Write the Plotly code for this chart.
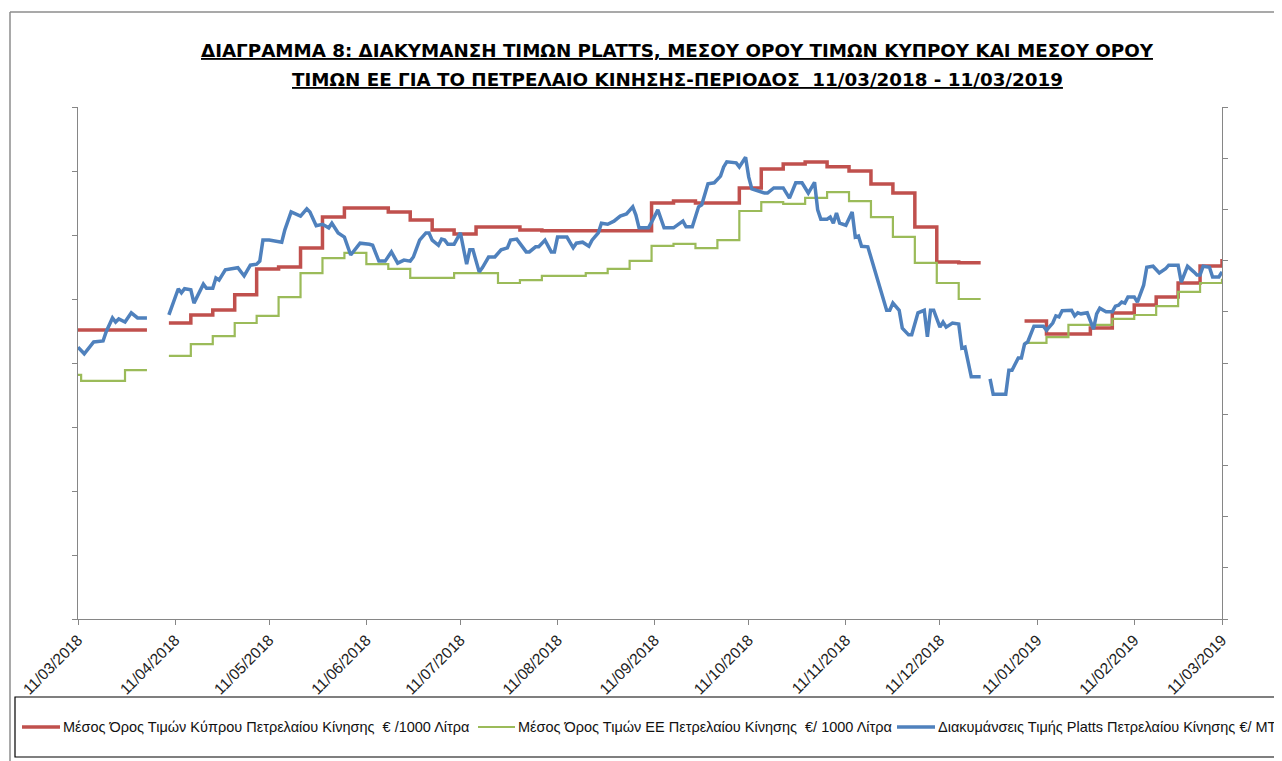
import plotly.graph_objects as go

# ---------------- data ----------------
title_line1 = "ΔΙΑΓΡΑΜΜΑ 8: ΔΙΑΚΥΜΑΝΣΗ ΤΙΜΩΝ PLATTS, ΜΕΣΟΥ ΟΡΟΥ ΤΙΜΩΝ ΚΥΠΡΟΥ ΚΑΙ ΜΕΣΟΥ ΟΡΟΥ"
title_line2 = "ΤΙΜΩΝ ΕΕ ΓΙΑ ΤΟ ΠΕΤΡΕΛΑΙΟ ΚΙΝΗΣΗΣ-ΠΕΡΙΟΔΟΣ  11/03/2018 - 11/03/2019"

name_cy = "Μέσος Όρος Τιμών Κύπρου Πετρελαίου Κίνησης  € /1000 Λίτρα"
name_eu = "Μέσος Όρος Τιμών ΕΕ Πετρελαίου Κίνησης  €/ 1000 Λίτρα"
name_platts = "Διακυμάνσεις Τιμής Platts Πετρελαίου Κίνησης €/ MT"

tick_dates = ["2018-03-11", "2018-04-11", "2018-05-11", "2018-06-11", "2018-07-11",
              "2018-08-11", "2018-09-11", "2018-10-11", "2018-11-11", "2018-12-11",
              "2019-01-11", "2019-02-11", "2019-03-11"]
tick_labels = ["11/03/2018", "11/04/2018", "11/05/2018", "11/06/2018", "11/07/2018",
               "11/08/2018", "11/09/2018", "11/10/2018", "11/11/2018", "11/12/2018",
               "11/01/2019", "11/02/2019", "11/03/2019"]

cy_dates = ["2018-03-11", "2018-04-02", "2018-04-03", "2018-04-09", "2018-04-16", "2018-04-23",
            "2018-04-30", "2018-05-07", "2018-05-14", "2018-05-21", "2018-05-28", "2018-06-04",
            "2018-06-18", "2018-06-25", "2018-07-02", "2018-07-09", "2018-07-16", "2018-07-30",
            "2018-08-06", "2018-09-10", "2018-09-17", "2018-09-24", "2018-10-08", "2018-10-15",
            "2018-10-22", "2018-10-29", "2018-11-05", "2018-11-12", "2018-11-19", "2018-11-26",
            "2018-12-03", "2018-12-10", "2018-12-17", "2018-12-24", "2018-12-25", "2019-01-07",
            "2019-01-14", "2019-01-28", "2019-02-04", "2019-02-11", "2019-02-18", "2019-02-25",
            "2019-03-04", "2019-03-10", "2019-03-11"]
cy_values = [903, 903, None, 925, 950, 966,
             1013, 1094, 1100, 1159, 1256, 1284,
             1272, 1247, 1216, 1203, 1225, 1216,
             1213, 1300, 1306, 1300, 1347, 1406,
             1422, 1428, 1413, 1400, 1359, 1331,
             1225, 1116, 1113, 1113, None, 931,
             891, 909, 956, 981, 1006, 1050,
             1103, 1103, 1125]

eu_dates = ["2018-03-11", "2018-03-12", "2018-03-26", "2018-04-02", "2018-04-03", "2018-04-09",
            "2018-04-16", "2018-04-23", "2018-04-30", "2018-05-07", "2018-05-14", "2018-05-21",
            "2018-05-28", "2018-06-04", "2018-06-11", "2018-06-18", "2018-06-25", "2018-07-09",
            "2018-07-23", "2018-07-30", "2018-08-06", "2018-08-20", "2018-08-27", "2018-09-03",
            "2018-09-10", "2018-09-17", "2018-09-24", "2018-10-01", "2018-10-08", "2018-10-15",
            "2018-10-22", "2018-10-29", "2018-11-05", "2018-11-12", "2018-11-19", "2018-11-26",
            "2018-12-03", "2018-12-10", "2018-12-17", "2018-12-24", "2018-12-25", "2019-01-07",
            "2019-01-14", "2019-01-21", "2019-02-04", "2019-02-11", "2019-02-18", "2019-02-25",
            "2019-03-04", "2019-03-10", "2019-03-11"]
eu_values = [763, 744, 778, 778, None, 822,
             859, 884, 925, 947, 1006, 1081,
             1128, 1144, 1109, 1094, 1066, 1081,
             1050, 1059, 1072, 1081, 1094, 1119,
             1166, 1172, 1159, 1184, 1275, 1303,
             1297, 1316, 1334, 1306, 1256, 1194,
             1113, 1050, 1000, 1000, None, 863,
             881, 919, 938, 950, 978, 1022,
             1050, 1050, 1063]

platts_dates = [
    "2018-03-11", "2018-03-13", "2018-03-16", "2018-03-19", "2018-03-20", "2018-03-22", "2018-03-23",
    "2018-03-24", "2018-03-26", "2018-03-28", "2018-03-30", "2018-04-02", "2018-04-05", "2018-04-09",
    "2018-04-12", "2018-04-13", "2018-04-14", "2018-04-16", "2018-04-17", "2018-04-20", "2018-04-21",
    "2018-04-23", "2018-04-24", "2018-04-25", "2018-04-27", "2018-04-29", "2018-05-01", "2018-05-03",
    "2018-05-05", "2018-05-07", "2018-05-08", "2018-05-09", "2018-05-11", "2018-05-15", "2018-05-16",
    "2018-05-18", "2018-05-21", "2018-05-23", "2018-05-24", "2018-05-26", "2018-05-28", "2018-05-30",
    "2018-05-31", "2018-06-02", "2018-06-04", "2018-06-06", "2018-06-09", "2018-06-12", "2018-06-13",
    "2018-06-15", "2018-06-17", "2018-06-19", "2018-06-21", "2018-06-23", "2018-06-25", "2018-06-26",
    "2018-06-28", "2018-06-30", "2018-07-01", "2018-07-02", "2018-07-04", "2018-07-05", "2018-07-06",
    "2018-07-07", "2018-07-09", "2018-07-11", "2018-07-13", "2018-07-14", "2018-07-15", "2018-07-17",
    "2018-07-18", "2018-07-20", "2018-07-22", "2018-07-24", "2018-07-26", "2018-07-27", "2018-07-29",
    "2018-08-01", "2018-08-02", "2018-08-04", "2018-08-05", "2018-08-07", "2018-08-09", "2018-08-10",
    "2018-08-11", "2018-08-14", "2018-08-16", "2018-08-17", "2018-08-19", "2018-08-21", "2018-08-22",
    "2018-08-24", "2018-08-25", "2018-08-27", "2018-08-29", "2018-08-31", "2018-09-02", "2018-09-04",
    "2018-09-05", "2018-09-06", "2018-09-09", "2018-09-10", "2018-09-12", "2018-09-14", "2018-09-17",
    "2018-09-20", "2018-09-21", "2018-09-23", "2018-09-25", "2018-09-26", "2018-09-28", "2018-09-30",
    "2018-10-02", "2018-10-03", "2018-10-04", "2018-10-07", "2018-10-08", "2018-10-10", "2018-10-11",
    "2018-10-12", "2018-10-14", "2018-10-16", "2018-10-17", "2018-10-19", "2018-10-22", "2018-10-24",
    "2018-10-26", "2018-10-28", "2018-10-30", "2018-11-01", "2018-11-02", "2018-11-03", "2018-11-05",
    "2018-11-06", "2018-11-07", "2018-11-08", "2018-11-09", "2018-11-11", "2018-11-13", "2018-11-14",
    "2018-11-15", "2018-11-16", "2018-11-18", "2018-11-20", "2018-11-22", "2018-11-24", "2018-11-25",
    "2018-11-26", "2018-11-28", "2018-11-29", "2018-12-01", "2018-12-02", "2018-12-04", "2018-12-06",
    "2018-12-07", "2018-12-08", "2018-12-09", "2018-12-11", "2018-12-12", "2018-12-13", "2018-12-15",
    "2018-12-17", "2018-12-18", "2018-12-19", "2018-12-21", "2018-12-24", "2018-12-25", "2018-12-27",
    "2018-12-28", "2019-01-01", "2019-01-02", "2019-01-03", "2019-01-05", "2019-01-06", "2019-01-07",
    "2019-01-08", "2019-01-10", "2019-01-13", "2019-01-14", "2019-01-16", "2019-01-17", "2019-01-18",
    "2019-01-19", "2019-01-22", "2019-01-23", "2019-01-24", "2019-01-25", "2019-01-27", "2019-01-29",
    "2019-01-30", "2019-01-31", "2019-02-02", "2019-02-04", "2019-02-05", "2019-02-06", "2019-02-07",
    "2019-02-08", "2019-02-09", "2019-02-11", "2019-02-12", "2019-02-13", "2019-02-14", "2019-02-15",
    "2019-02-17", "2019-02-19", "2019-02-21", "2019-02-22", "2019-02-25", "2019-02-26", "2019-02-28",
    "2019-03-02", "2019-03-03", "2019-03-04", "2019-03-05", "2019-03-07", "2019-03-08", "2019-03-10",
    "2019-03-11"]
platts_values = [
    531, 518, 541, 543, 561, 588, 580,
    586, 580, 598, 588, 588, None, 594,
    645, 637, 645, 643, 617, 654, 646,
    646, 666, 662, 682, 684, 686, 670,
    691, 693, 699, 740, 740, 736, 760,
    795, 787, 801, 795, 768, 771, 764,
    773, 754, 746, 711, 734, 732, 730,
    699, 699, 717, 695, 701, 699, 707,
    740, 754, 754, 740, 730, 742, 740,
    732, 732, 754, 693, 721, 721, 678,
    686, 707, 707, 721, 725, 740, 742,
    717, 717, 727, 727, 740, 717, 717,
    746, 746, 725, 734, 736, 728, 740,
    754, 773, 771, 777, 787, 791, 805,
    789, 764, 764, 775, 799, 764, 764,
    777, 766, 766, 805, 809, 850, 852,
    865, 883, 893, 891, 883, 902, 863,
    840, 836, 832, 832, 842, 842, 822,
    852, 852, 832, 853, 799, 781, 781,
    785, 773, 793, 773, 769, 795, 746,
    748, 728, 727, 686, 646, 603, 603,
    617, 603, 568, 555, 555, 598, 603,
    551, 603, 603, 570, 580, 570, 578,
    576, 529, 531, 473, 473, None, 469,
    439, 439, 486, 486, 510, 510, 537,
    541, 572, 572, 564, 578, 592, 590,
    602, 603, 592, 598, 596, 598, 566,
    596, 607, 600, 600, 611, 613, 619,
    617, 629, 629, 619, 637, 652, 687,
    689, 676, 684, 691, 691, 658, 689,
    678, 672, 672, 689, 687, 668, 668,
    678]

# ---------------- styling ----------------
RED = "#C0504D"
GREEN = "#9BBB59"
BLUE = "#4F81BD"
AXIS = "#868686"
FONT = "Liberation Sans"

OFF = 8                      # page offset of the figure inside the browser page
W, H = 1282 - OFF, 761 - OFF
# plot area in page pixels
PL, PR, PT, PB = 78, 1222, 107, 619


def px(x):
    return (x - PL) / (PR - PL)


def py(y):
    return (PB - y) / (PB - PT)


fig = go.Figure()
fig.add_trace(go.Scatter(x=cy_dates, y=cy_values, name=name_cy, mode="lines",
                         line=dict(color=RED, width=3.5, shape="hv"), yaxis="y"))
fig.add_trace(go.Scatter(x=eu_dates, y=eu_values, name=name_eu, mode="lines",
                         line=dict(color=GREEN, width=2.2, shape="hv"), yaxis="y"))
fig.add_trace(go.Scatter(x=platts_dates, y=platts_values, name=name_platts, mode="lines",
                         line=dict(color=BLUE, width=3.5), yaxis="y2"))

shapes = [
    # outer chart frame (left and top edges)
    dict(type="line", xref="paper", yref="paper", x0=px(10), x1=px(10), y0=py(12), y1=py(770),
         line=dict(color="#8C8C8C", width=1.5)),
    dict(type="line", xref="paper", yref="paper", x0=px(10), x1=px(1300), y0=py(12), y1=py(12),
         line=dict(color="#8C8C8C", width=1.5)),
    # legend box
    dict(type="rect", xref="paper", yref="paper", x0=px(15), x1=px(1320), y0=py(697), y1=py(757),
         line=dict(color="black", width=1.2), fillcolor="rgba(0,0,0,0)"),
]
annotations = []
legend_items = [(name_cy, RED, 3.5, 22, 60), (name_eu, GREEN, 2.2, 478, 515),
                (name_platts, BLUE, 3.5, 897, 935)]
for name, col, wdt, x0, x1 in legend_items:
    shapes.append(dict(type="line", xref="paper", yref="paper", x0=px(x0), x1=px(x1),
                       y0=py(727), y1=py(727), line=dict(color=col, width=wdt)))
    annotations.append(dict(text=name, xref="paper", yref="paper", x=px(x1 + 1), y=py(727),
                            xanchor="left", yanchor="middle", showarrow=False,
                            font=dict(family=FONT, size=14.5, color="#111")))

for txt, yc in [(title_line1, 50), (title_line2, 79)]:
    annotations.append(dict(text=txt, xref="paper", yref="paper", x=px(677), y=py(yc),
                            xanchor="center", yanchor="middle", showarrow=False,
                            font=dict(family="DejaVu Sans", size=18.3, color="black", weight="bold",
                                      lineposition="under")))

fig.update_layout(
    width=W, height=H,
    margin=dict(l=PL - OFF, r=W - (PR - OFF), t=PT - OFF, b=H - (PB - OFF)),
    paper_bgcolor="white", plot_bgcolor="white",
    showlegend=False,
    shapes=shapes, annotations=annotations,
    xaxis=dict(type="date", range=["2018-03-11", "2019-03-11"], tickmode="array",
               tickvals=tick_dates, ticktext=tick_labels, tickangle=-45,
               ticks="outside", ticklen=5, tickcolor=AXIS, showline=True, linecolor=AXIS,
               linewidth=1.2, showgrid=False, zeroline=False,
               tickfont=dict(family=FONT, size=15.5, color="#222")),
    yaxis=dict(range=[0, 1600], tickmode="linear", tick0=0, dtick=200, showticklabels=False,
               ticks="outside", ticklen=5, tickcolor=AXIS, showline=True, linecolor=AXIS,
               linewidth=1.2, showgrid=False, zeroline=False),
    yaxis2=dict(range=[0, 1000], tickmode="linear", tick0=0, dtick=100, showticklabels=False,
                overlaying="y", side="right", ticks="outside", ticklen=5, tickcolor=AXIS,
                showline=True, linecolor=AXIS, linewidth=1.2, showgrid=False, zeroline=False),
)

fig.write_html("out.html")
